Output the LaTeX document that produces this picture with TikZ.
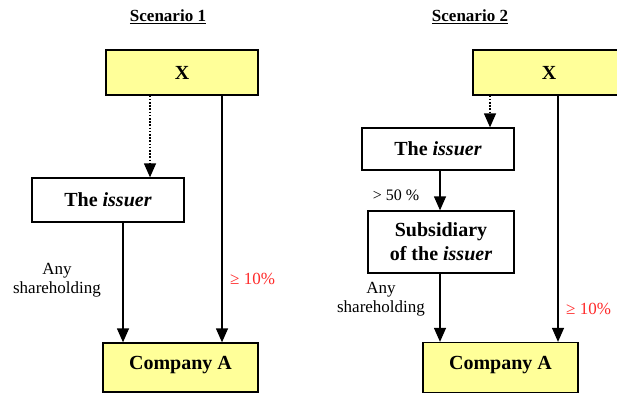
\documentclass[tikz,border=0pt]{standalone}
\usepackage{fontspec}
\setmainfont{Liberation Serif}
\usetikzlibrary{arrows.meta}
\definecolor{boxyellow}{HTML}{FFFF99}
\definecolor{labred}{HTML}{FF2A2A}
\tikzset{
  entity/.style={draw=black, line width=1.3pt, rectangle, inner sep=0pt,
    font=\fontsize{20}{24}\selectfont\bfseries, align=center},
  yellowbox/.style={entity, fill=boxyellow},
  whitebox/.style={entity, fill=white},
  raised/.style={text height=14pt, text depth=11pt},
  link/.style={line width=1.3pt, -{Triangle[length=14pt,width=12pt]}},
  dotlink/.style={link, dash pattern=on 1.6pt off 1.6pt},
  lab/.style={font=\fontsize{17}{19}\selectfont, align=center, inner sep=0pt},
  redlab/.style={lab, text=labred, anchor=west},
  title/.style={font=\fontsize{17}{20}\selectfont\bfseries, inner sep=0pt}
}
\begin{document}
\begin{tikzpicture}[x=1pt,y=-1pt]
\clip (0,0) rectangle (617,393);
\fill[white] (0,0) rectangle (617,393);
% Scenario 1
\node[title] (t1) at (168,17) {\underline{Scenario 1}};
\node[yellowbox, minimum width=152pt, minimum height=45pt] (x1) at (182,72.5) {X};
\node[whitebox, minimum width=152pt, minimum height=44pt] (iss1) at (108,200) {The \textit{issuer}};
\node[yellowbox, raised, minimum width=155pt, minimum height=49pt] (ca1) at (180.5,367.5) {Company A};
\coordinate (d1) at (150,0);
\coordinate (r1) at (222,0);
\coordinate (l1) at (123,0);
\draw[dotlink] (x1.south -| d1) -- (iss1.north -| d1);
\draw[link] (iss1.south -| l1) -- (ca1.north -| l1);
\draw[link] (x1.south -| r1) -- (ca1.north -| r1);
\node[lab] (any1) at (57,280) {Any\\shareholding};
\node[redlab] (p1) at (230,279) {≥ 10\%};
% Scenario 2
\node[title] (t2) at (470,17) {\underline{Scenario 2}};
\node[yellowbox, minimum width=152pt, minimum height=45pt] (x2) at (549,72.5) {X};
\node[whitebox, minimum width=152pt, minimum height=42pt] (iss2) at (438,149) {The \textit{issuer}};
\node[whitebox, minimum width=146pt, minimum height=62pt] (sub2) at (441,242) {Subsidiary\\of the \textit{issuer}};
\node[yellowbox, raised, minimum width=155pt, minimum height=50pt] (ca2) at (500.5,367.5) {Company A};
\coordinate (d2) at (490,0);
\coordinate (m2) at (440,0);
\coordinate (r2) at (558,0);
\draw[dotlink] (x2.south -| d2) -- (iss2.north -| d2);
\draw[link] (iss2.south -| m2) -- (sub2.north -| m2);
\draw[link] (sub2.south -| m2) -- (ca2.north -| m2);
\draw[link] (x2.south -| r2) -- (ca2.north -| r2);
\node[lab, font=\fontsize{16}{18}\selectfont] (p50) at (396,195) {> 50 \%};
\node[lab] (any2) at (381,299) {Any\\shareholding};
\node[redlab] (p2) at (566,309) {≥ 10\%};
\end{tikzpicture}
\end{document}
